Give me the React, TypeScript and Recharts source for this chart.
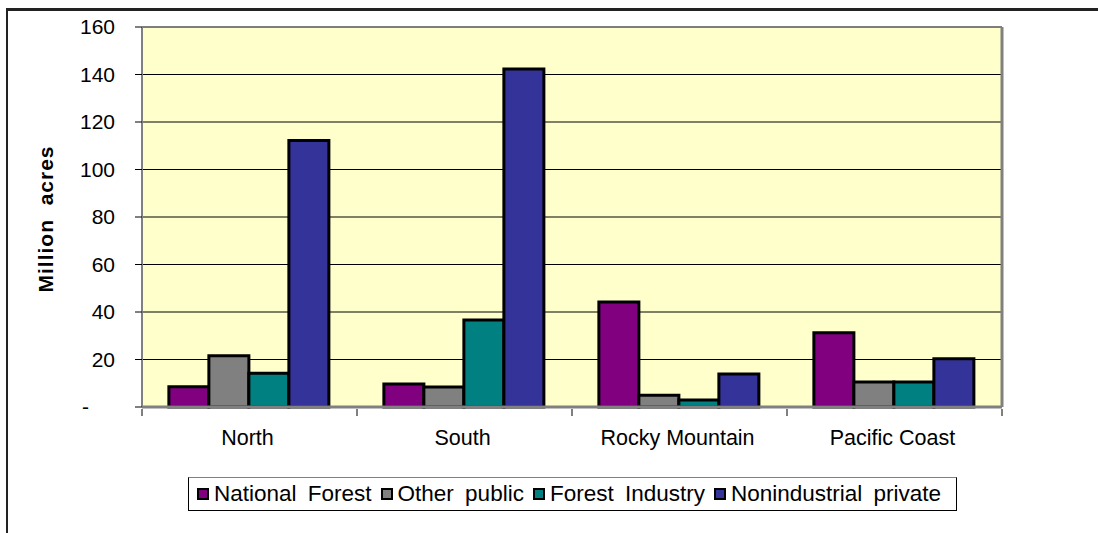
import { Bar, BarChart, CartesianGrid, XAxis, YAxis } from "recharts"

// values (million acres)
const regions = ["North", "South", "Rocky Mountain", "Pacific Coast"]
const nationalForest = [8.5, 9.7, 44.2, 31.3]
const otherPublic = [21.6, 8.4, 5.0, 10.5]
const forestIndustry = [14.2, 36.6, 2.9, 10.5]
const nonindustrialPrivate = [112.2, 142.3, 13.9, 20.3]
const yTicks = [0, 20, 40, 60, 80, 100, 120, 140, 160]

const series = [
  { key: "nationalForest", name: "National Forest", color: "#800080", values: nationalForest },
  { key: "otherPublic", name: "Other public", color: "#808080", values: otherPublic },
  { key: "forestIndustry", name: "Forest Industry", color: "#008080", values: forestIndustry },
  { key: "nonindustrialPrivate", name: "Nonindustrial private", color: "#333399", values: nonindustrialPrivate },
]

const data = regions.map((region, i) => {
  const row: Record<string, string | number> = { region }
  series.forEach((s) => {
    row[s.key] = s.values[i]
  })
  return row
})

const FONT = '"Liberation Sans", Arial, sans-serif'
const PLOT_LEFT = 142
const PLOT_RIGHT = 1002
const BAND = (PLOT_RIGHT - PLOT_LEFT) / regions.length

function YTick(props: any) {
  const { x, y, payload } = props
  if (payload.value === 0) {
    return (
      <text x={x - 26} y={y} dy={7} textAnchor="end" fontSize={21} fontFamily={FONT} fill="#000">
        -
      </text>
    )
  }
  return (
    <text x={x} y={y} dy={7} textAnchor="end" fontSize={21} fontFamily={FONT} fill="#000">
      {payload.value}
    </text>
  )
}

function XTick(props: any) {
  const { x, y, payload, index } = props
  const left = x - BAND / 2
  return (
    <g>
      <line x1={left} x2={left} y1={y} y2={y + 7} stroke="#000" strokeWidth={1} />
      {index === regions.length - 1 && (
        <line x1={x + BAND / 2} x2={x + BAND / 2} y1={y} y2={y + 7} stroke="#000" strokeWidth={1} />
      )}
      <text x={x - 2} y={y + 36} textAnchor="middle" fontSize={21.5} fontFamily={FONT} fill="#000">
        {payload.value}
      </text>
    </g>
  )
}

function YLabel() {
  return (
    <text
      x={53}
      y={219}
      transform="rotate(-90 53 219)"
      textAnchor="middle"
      fontSize={21}
      fontWeight="bold"
      fontFamily={FONT}
      fill="#000"
      letterSpacing={1}
      style={{ whiteSpace: "pre" }}
    >
      {"Million  acres"}
    </text>
  )
}

export default function App() {
  return (
    <div style={{ position: "absolute", left: 0, top: 0, width: 1098, height: 533, background: "#fff", overflow: "hidden" }}>
      <div
        style={{
          position: "absolute",
          left: 6,
          top: 8,
          width: 1100,
          height: 540,
          borderTop: "3px solid #222",
          borderLeft: "2px solid #222",
        }}
      />
      <div style={{ position: "absolute", left: 0, top: 0 }}>
        <BarChart
          width={1098}
          height={533}
          data={data}
          margin={{ top: 27, right: 94, bottom: 0, left: 0 }}
          barCategoryGap="12.5%"
          barGap={0}
        >
          <CartesianGrid horizontal vertical={false} stroke="#000" strokeWidth={1} fill="#FFFFCC" />
          <XAxis
            dataKey="region"
            height={126}
            tickSize={0}
            tickLine={false}
            axisLine={{ stroke: "#808080", strokeWidth: 3 }}
            tick={<XTick />}
            interval={0}
          />
          <YAxis
            width={142}
            domain={[0, 160]}
            ticks={yTicks}
            interval={0}
            tickSize={7}
            tickMargin={20}
            tickLine={{ stroke: "#000" }}
            axisLine={{ stroke: "#808080", strokeWidth: 2 }}
            tick={<YTick />}
            label={<YLabel />}
          />
          <YAxis
            yAxisId="r"
            orientation="right"
            width={2}
            domain={[0, 160]}
            tick={false}
            tickLine={false}
            axisLine={{ stroke: "#808080", strokeWidth: 3 }}
          />
          {series.map((s) => (
            <Bar
              key={s.key}
              dataKey={s.key}
              name={s.name}
              fill={s.color}
              stroke="#000"
              strokeWidth={3}
              isAnimationActive={false}
            />
          ))}
        </BarChart>
      </div>
      <div
        style={{
          position: "absolute",
          left: 188,
          top: 477,
          width: 769,
          height: 34,
          boxSizing: "border-box",
          border: "1px solid #000",
          borderTopColor: "#808080",
          background: "#fff",
          display: "flex",
          alignItems: "center",
          paddingLeft: 8,
          fontFamily: FONT,
          fontSize: 22.5,
          color: "#000",
          whiteSpace: "nowrap",
        }}
      >
        {series.map((s, i) => (
          <div key={s.key} style={{ display: "flex", alignItems: "center", marginLeft: i === 0 ? 0 : 9 }}>
            <span
              style={{
                display: "inline-block",
                width: 8,
                height: 8,
                border: "2px solid #000",
                background: s.color,
                marginRight: 5,
              }}
            />
            <span style={{ wordSpacing: 5 }}>{s.name}</span>
          </div>
        ))}
      </div>
    </div>
  )
}
